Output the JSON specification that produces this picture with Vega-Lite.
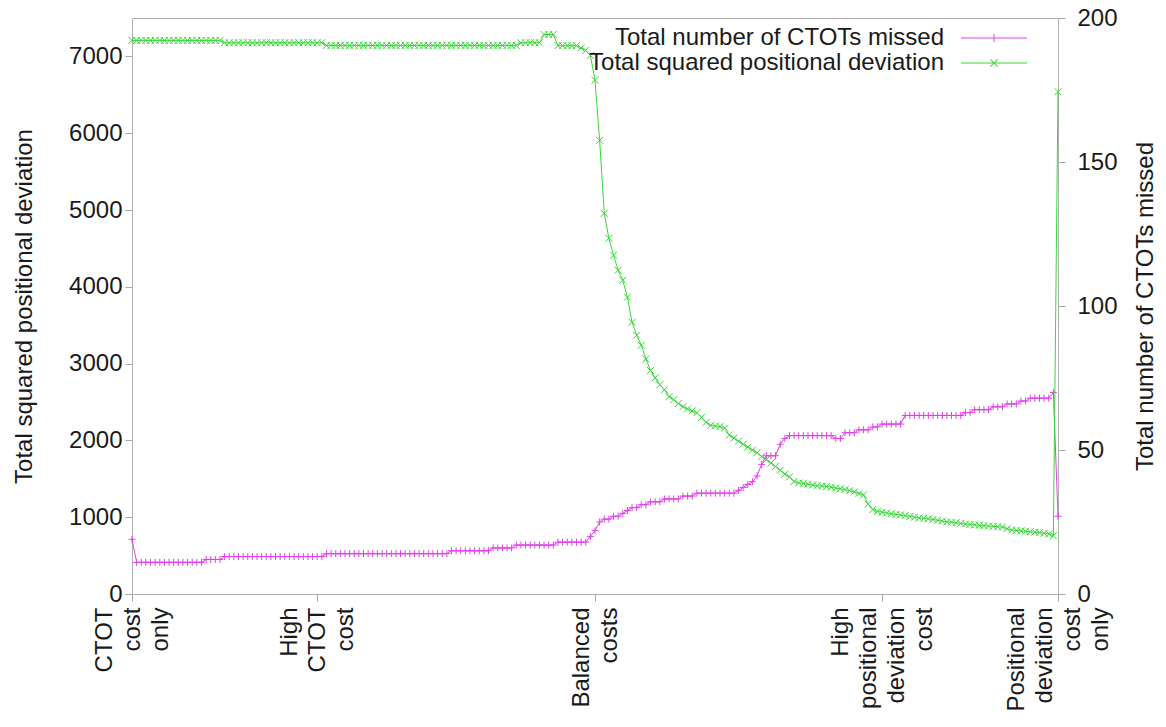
{
  "$schema": "https://vega.github.io/schema/vega-lite/v6.json",
  "width": 926,
  "height": 576,
  "autosize": {"type": "none"},
  "padding": {"left": 132, "top": 18, "right": 108, "bottom": 133},
  "background": "white",
  "config": {
    "font": "Liberation Sans",
    "view": {"stroke": "#b0b0b0", "strokeWidth": 1},
    "axis": {
      "labelFont": "Liberation Sans",
      "titleFont": "Liberation Sans",
      "labelFontSize": 24,
      "titleFontSize": 24,
      "titleFontWeight": "normal",
      "labelColor": "#1a1a1a",
      "titleColor": "#1a1a1a",
      "tickColor": "#a8a8a8",
      "domain": false,
      "tickSize": 7,
      "grid": false
    }
  },
  "data": {
    "values": [
      {"step": 0, "missed": 19, "sqdev": 7208},
      {"step": 1, "missed": 11, "sqdev": 7208},
      {"step": 2, "missed": 11, "sqdev": 7208},
      {"step": 3, "missed": 11, "sqdev": 7208},
      {"step": 4, "missed": 11, "sqdev": 7208},
      {"step": 5, "missed": 11, "sqdev": 7208},
      {"step": 6, "missed": 11, "sqdev": 7208},
      {"step": 7, "missed": 11, "sqdev": 7208},
      {"step": 8, "missed": 11, "sqdev": 7208},
      {"step": 9, "missed": 11, "sqdev": 7208},
      {"step": 10, "missed": 11, "sqdev": 7208},
      {"step": 11, "missed": 11, "sqdev": 7208},
      {"step": 12, "missed": 11, "sqdev": 7208},
      {"step": 13, "missed": 11, "sqdev": 7208},
      {"step": 14, "missed": 11, "sqdev": 7208},
      {"step": 15, "missed": 11, "sqdev": 7208},
      {"step": 16, "missed": 12, "sqdev": 7208},
      {"step": 17, "missed": 12, "sqdev": 7208},
      {"step": 18, "missed": 12, "sqdev": 7208},
      {"step": 19, "missed": 12, "sqdev": 7208},
      {"step": 20, "missed": 13, "sqdev": 7178},
      {"step": 21, "missed": 13, "sqdev": 7178},
      {"step": 22, "missed": 13, "sqdev": 7178},
      {"step": 23, "missed": 13, "sqdev": 7178},
      {"step": 24, "missed": 13, "sqdev": 7178},
      {"step": 25, "missed": 13, "sqdev": 7178},
      {"step": 26, "missed": 13, "sqdev": 7178},
      {"step": 27, "missed": 13, "sqdev": 7178},
      {"step": 28, "missed": 13, "sqdev": 7178},
      {"step": 29, "missed": 13, "sqdev": 7178},
      {"step": 30, "missed": 13, "sqdev": 7178},
      {"step": 31, "missed": 13, "sqdev": 7178},
      {"step": 32, "missed": 13, "sqdev": 7178},
      {"step": 33, "missed": 13, "sqdev": 7178},
      {"step": 34, "missed": 13, "sqdev": 7178},
      {"step": 35, "missed": 13, "sqdev": 7178},
      {"step": 36, "missed": 13, "sqdev": 7178},
      {"step": 37, "missed": 13, "sqdev": 7178},
      {"step": 38, "missed": 13, "sqdev": 7178},
      {"step": 39, "missed": 13, "sqdev": 7178},
      {"step": 40, "missed": 13, "sqdev": 7178},
      {"step": 41, "missed": 13, "sqdev": 7178},
      {"step": 42, "missed": 14, "sqdev": 7143},
      {"step": 43, "missed": 14, "sqdev": 7143},
      {"step": 44, "missed": 14, "sqdev": 7143},
      {"step": 45, "missed": 14, "sqdev": 7143},
      {"step": 46, "missed": 14, "sqdev": 7143},
      {"step": 47, "missed": 14, "sqdev": 7143},
      {"step": 48, "missed": 14, "sqdev": 7143},
      {"step": 49, "missed": 14, "sqdev": 7143},
      {"step": 50, "missed": 14, "sqdev": 7143},
      {"step": 51, "missed": 14, "sqdev": 7143},
      {"step": 52, "missed": 14, "sqdev": 7143},
      {"step": 53, "missed": 14, "sqdev": 7143},
      {"step": 54, "missed": 14, "sqdev": 7143},
      {"step": 55, "missed": 14, "sqdev": 7143},
      {"step": 56, "missed": 14, "sqdev": 7143},
      {"step": 57, "missed": 14, "sqdev": 7143},
      {"step": 58, "missed": 14, "sqdev": 7143},
      {"step": 59, "missed": 14, "sqdev": 7143},
      {"step": 60, "missed": 14, "sqdev": 7143},
      {"step": 61, "missed": 14, "sqdev": 7143},
      {"step": 62, "missed": 14, "sqdev": 7143},
      {"step": 63, "missed": 14, "sqdev": 7143},
      {"step": 64, "missed": 14, "sqdev": 7143},
      {"step": 65, "missed": 14, "sqdev": 7143},
      {"step": 66, "missed": 14, "sqdev": 7143},
      {"step": 67, "missed": 14, "sqdev": 7143},
      {"step": 68, "missed": 14, "sqdev": 7143},
      {"step": 69, "missed": 15, "sqdev": 7143},
      {"step": 70, "missed": 15, "sqdev": 7143},
      {"step": 71, "missed": 15, "sqdev": 7143},
      {"step": 72, "missed": 15, "sqdev": 7143},
      {"step": 73, "missed": 15, "sqdev": 7143},
      {"step": 74, "missed": 15, "sqdev": 7143},
      {"step": 75, "missed": 15, "sqdev": 7143},
      {"step": 76, "missed": 15, "sqdev": 7143},
      {"step": 77, "missed": 15, "sqdev": 7143},
      {"step": 78, "missed": 16, "sqdev": 7143},
      {"step": 79, "missed": 16, "sqdev": 7143},
      {"step": 80, "missed": 16, "sqdev": 7143},
      {"step": 81, "missed": 16, "sqdev": 7143},
      {"step": 82, "missed": 16, "sqdev": 7143},
      {"step": 83, "missed": 17, "sqdev": 7143},
      {"step": 84, "missed": 17, "sqdev": 7178},
      {"step": 85, "missed": 17, "sqdev": 7178},
      {"step": 86, "missed": 17, "sqdev": 7178},
      {"step": 87, "missed": 17, "sqdev": 7178},
      {"step": 88, "missed": 17, "sqdev": 7178},
      {"step": 89, "missed": 17, "sqdev": 7285},
      {"step": 90, "missed": 17, "sqdev": 7285},
      {"step": 91, "missed": 17, "sqdev": 7285},
      {"step": 92, "missed": 18, "sqdev": 7140},
      {"step": 93, "missed": 18, "sqdev": 7140},
      {"step": 94, "missed": 18, "sqdev": 7140},
      {"step": 95, "missed": 18, "sqdev": 7140},
      {"step": 96, "missed": 18, "sqdev": 7140},
      {"step": 97, "missed": 18, "sqdev": 7110},
      {"step": 98, "missed": 18, "sqdev": 7077},
      {"step": 99, "missed": 20, "sqdev": 7013},
      {"step": 100, "missed": 22, "sqdev": 6690},
      {"step": 101, "missed": 25, "sqdev": 5907},
      {"step": 102, "missed": 26, "sqdev": 4957},
      {"step": 103, "missed": 26, "sqdev": 4632},
      {"step": 104, "missed": 27, "sqdev": 4411},
      {"step": 105, "missed": 27, "sqdev": 4216},
      {"step": 106, "missed": 28, "sqdev": 4085},
      {"step": 107, "missed": 29, "sqdev": 3864},
      {"step": 108, "missed": 30, "sqdev": 3539},
      {"step": 109, "missed": 30, "sqdev": 3370},
      {"step": 110, "missed": 31, "sqdev": 3240},
      {"step": 111, "missed": 31, "sqdev": 3060},
      {"step": 112, "missed": 32, "sqdev": 2910},
      {"step": 113, "missed": 32, "sqdev": 2815},
      {"step": 114, "missed": 32, "sqdev": 2725},
      {"step": 115, "missed": 33, "sqdev": 2660},
      {"step": 116, "missed": 33, "sqdev": 2570},
      {"step": 117, "missed": 33, "sqdev": 2530},
      {"step": 118, "missed": 33, "sqdev": 2480},
      {"step": 119, "missed": 34, "sqdev": 2440},
      {"step": 120, "missed": 34, "sqdev": 2410},
      {"step": 121, "missed": 34, "sqdev": 2385},
      {"step": 122, "missed": 35, "sqdev": 2360},
      {"step": 123, "missed": 35, "sqdev": 2300},
      {"step": 124, "missed": 35, "sqdev": 2235},
      {"step": 125, "missed": 35, "sqdev": 2195},
      {"step": 126, "missed": 35, "sqdev": 2186},
      {"step": 127, "missed": 35, "sqdev": 2180},
      {"step": 128, "missed": 35, "sqdev": 2160},
      {"step": 129, "missed": 35, "sqdev": 2070},
      {"step": 130, "missed": 35, "sqdev": 2030},
      {"step": 131, "missed": 36, "sqdev": 1990},
      {"step": 132, "missed": 37, "sqdev": 1950},
      {"step": 133, "missed": 38, "sqdev": 1912},
      {"step": 134, "missed": 39, "sqdev": 1875},
      {"step": 135, "missed": 41, "sqdev": 1840},
      {"step": 136, "missed": 45, "sqdev": 1790},
      {"step": 137, "missed": 48, "sqdev": 1750},
      {"step": 138, "missed": 48, "sqdev": 1704},
      {"step": 139, "missed": 48, "sqdev": 1660},
      {"step": 140, "missed": 52, "sqdev": 1610},
      {"step": 141, "missed": 54, "sqdev": 1560},
      {"step": 142, "missed": 55, "sqdev": 1525},
      {"step": 143, "missed": 55, "sqdev": 1465},
      {"step": 144, "missed": 55, "sqdev": 1445},
      {"step": 145, "missed": 55, "sqdev": 1440},
      {"step": 146, "missed": 55, "sqdev": 1430},
      {"step": 147, "missed": 55, "sqdev": 1420},
      {"step": 148, "missed": 55, "sqdev": 1410},
      {"step": 149, "missed": 55, "sqdev": 1405},
      {"step": 150, "missed": 55, "sqdev": 1400},
      {"step": 151, "missed": 55, "sqdev": 1390},
      {"step": 152, "missed": 54, "sqdev": 1380},
      {"step": 153, "missed": 54, "sqdev": 1370},
      {"step": 154, "missed": 56, "sqdev": 1360},
      {"step": 155, "missed": 56, "sqdev": 1345},
      {"step": 156, "missed": 56, "sqdev": 1330},
      {"step": 157, "missed": 57, "sqdev": 1310},
      {"step": 158, "missed": 57, "sqdev": 1290},
      {"step": 159, "missed": 57, "sqdev": 1170},
      {"step": 160, "missed": 58, "sqdev": 1100},
      {"step": 161, "missed": 58, "sqdev": 1075},
      {"step": 162, "missed": 59, "sqdev": 1065},
      {"step": 163, "missed": 59, "sqdev": 1055},
      {"step": 164, "missed": 59, "sqdev": 1045},
      {"step": 165, "missed": 59, "sqdev": 1035},
      {"step": 166, "missed": 59, "sqdev": 1030},
      {"step": 167, "missed": 62, "sqdev": 1020},
      {"step": 168, "missed": 62, "sqdev": 1010},
      {"step": 169, "missed": 62, "sqdev": 1000},
      {"step": 170, "missed": 62, "sqdev": 990},
      {"step": 171, "missed": 62, "sqdev": 985},
      {"step": 172, "missed": 62, "sqdev": 980},
      {"step": 173, "missed": 62, "sqdev": 970},
      {"step": 174, "missed": 62, "sqdev": 960},
      {"step": 175, "missed": 62, "sqdev": 950},
      {"step": 176, "missed": 62, "sqdev": 940},
      {"step": 177, "missed": 62, "sqdev": 935},
      {"step": 178, "missed": 62, "sqdev": 928},
      {"step": 179, "missed": 62, "sqdev": 920},
      {"step": 180, "missed": 63, "sqdev": 912},
      {"step": 181, "missed": 63, "sqdev": 905},
      {"step": 182, "missed": 64, "sqdev": 900},
      {"step": 183, "missed": 64, "sqdev": 895},
      {"step": 184, "missed": 64, "sqdev": 890},
      {"step": 185, "missed": 64, "sqdev": 885},
      {"step": 186, "missed": 65, "sqdev": 880},
      {"step": 187, "missed": 65, "sqdev": 876},
      {"step": 188, "missed": 65, "sqdev": 872},
      {"step": 189, "missed": 66, "sqdev": 850},
      {"step": 190, "missed": 66, "sqdev": 833},
      {"step": 191, "missed": 66, "sqdev": 828},
      {"step": 192, "missed": 67, "sqdev": 822},
      {"step": 193, "missed": 67, "sqdev": 816},
      {"step": 194, "missed": 68, "sqdev": 811},
      {"step": 195, "missed": 68, "sqdev": 805},
      {"step": 196, "missed": 68, "sqdev": 798},
      {"step": 197, "missed": 68, "sqdev": 790},
      {"step": 198, "missed": 68, "sqdev": 782},
      {"step": 199, "missed": 70, "sqdev": 760},
      {"step": 200, "missed": 27, "sqdev": 6540}
    ]
  },
  "encoding": {
    "x": {
      "field": "step",
      "type": "quantitative",
      "scale": {"domain": [0, 200], "nice": false, "zero": false},
      "axis": {
        "title": null,
        "values": [0, 40, 100, 162, 200],
        "labelExpr": "datum.value == 0 ? ['CTOT', 'cost', 'only'] : datum.value == 40 ? ['High', 'CTOT', 'cost'] : datum.value == 100 ? ['Balanced', 'costs'] : datum.value == 162 ? ['High', 'positional', 'deviation', 'cost'] : ['Positional', 'deviation', 'cost', 'only']",
        "labelAngle": 270,
        "labelAlign": "right",
        "labelBaseline": "middle",
        "labelLineHeight": 28,
        "labelPadding": 6,
        "labelOffset": {
          "condition": [
            {"test": "datum.value == 100", "value": -14},
            {"test": "datum.value < 50", "value": -28}
          ],
          "value": -42
        },
        "labelFlush": false,
        "labelOverlap": false,
        "labelBound": false
      }
    }
  },
  "layer": [
    {
      "encoding": {
        "y": {
          "field": "missed",
          "type": "quantitative",
          "scale": {"domain": [0, 200], "nice": false},
          "axis": {
            "orient": "right",
            "title": "Total number of CTOTs missed",
            "values": [0, 50, 100, 150, 200],
            "labelPadding": 12,
            "titleAngle": 270,
            "titleBaseline": "top",
            "titlePadding": 16
          }
        },
        "color": {
          "datum": "Total number of CTOTs missed",
          "type": "nominal",
          "scale": {
            "domain": ["Total number of CTOTs missed", "Total squared positional deviation"],
            "range": ["#e040ea", "#36d936"]
          },
          "legend": {
            "title": null,
            "orient": "none",
            "legendX": 850,
            "legendY": 8,
            "symbolType": "M-2.75,-0.04L2.75,-0.04L2.75,0.04L-2.75,0.04Z",
            "symbolSize": 576,
            "symbolStrokeWidth": 0,
            "symbolOpacity": 1,
            "labelAlign": "right",
            "labelOffset": -62,
            "labelFontSize": 24,
            "labelFont": "Liberation Sans",
            "labelColor": "#1a1a1a",
            "labelLimit": 600,
            "rowPadding": 1,
            "encode": {
              "symbols": {
                "update": {
                  "shape": {"signal": "datum.value == 'Total number of CTOTs missed' ? 'M-2.75,-0.04L2.75,-0.04L2.75,0.04L-2.75,0.04Z M-0.04,-0.33L0.04,-0.33L0.04,0.33L-0.04,0.33Z' : 'M-2.75,-0.04L2.75,-0.04L2.75,0.04L-2.75,0.04Z M-0.272,-0.328L0.328,0.272L0.272,0.328L-0.328,-0.272Z M-0.272,0.328L0.328,-0.272L0.272,-0.328L-0.328,0.272Z'"},
                  "fill": {"signal": "datum.value == 'Total number of CTOTs missed' ? '#e040ea' : '#36d936'"},
                  "stroke": {"value": "transparent"},
                  "strokeWidth": {"value": 0},
                  "opacity": {"value": 1},
                  "fillOpacity": {"value": 1}
                }
              }
            }
          }
        }
      },
      "layer": [
        {"mark": {"type": "line", "strokeWidth": 1}},
        {"mark": {"type": "point", "shape": "M-1,0L1,0M0,-1L0,1", "filled": false, "size": 49, "strokeWidth": 1, "opacity": 1}}
      ]
    },
    {
      "encoding": {
        "y": {
          "field": "sqdev",
          "type": "quantitative",
          "scale": {"domain": [0, 7500], "nice": false},
          "axis": {
            "orient": "left",
            "title": "Total squared positional deviation",
            "values": [0, 1000, 2000, 3000, 4000, 5000, 6000, 7000],
            "format": "d",
            "labelPadding": 3,
            "titlePadding": 32
          }
        },
        "color": {
          "datum": "Total squared positional deviation",
          "type": "nominal",
          "scale": {
            "domain": ["Total number of CTOTs missed", "Total squared positional deviation"],
            "range": ["#e040ea", "#36d936"]
          }
        }
      },
      "layer": [
        {"mark": {"type": "line", "strokeWidth": 1}},
        {"mark": {"type": "point", "shape": "M-1,-1L1,1M-1,1L1,-1", "filled": false, "size": 49, "strokeWidth": 1, "opacity": 1}}
      ]
    }
  ],
  "resolve": {"scale": {"y": "independent"}}
}
